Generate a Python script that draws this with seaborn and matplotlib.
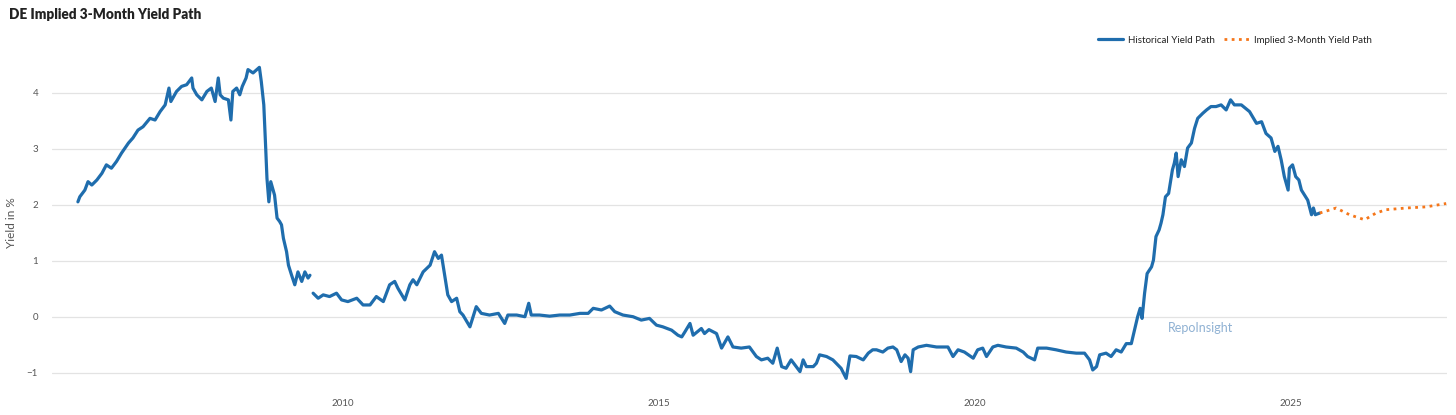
import numpy as np
import pandas as pd
import matplotlib
matplotlib.use("Agg")
import matplotlib.pyplot as plt
from matplotlib.lines import Line2D
import seaborn as sns

# ---------------------------------------------------------------------------
# Data (decimal years, yield in %)
# ---------------------------------------------------------------------------

hist_years = [
    2005.81, 2005.84, 2005.92, 2005.97, 2006.03, 2006.11, 2006.19, 2006.26, 2006.34, 2006.42,
    2006.50, 2006.61, 2006.68, 2006.76, 2006.84, 2006.95, 2007.03, 2007.11, 2007.19, 2007.25,
    2007.28, 2007.37, 2007.45, 2007.53, 2007.61, 2007.63, 2007.69, 2007.77, 2007.85, 2007.92,
    2007.98, 2008.03, 2008.06, 2008.11, 2008.19, 2008.23, 2008.26, 2008.32, 2008.37, 2008.41,
    2008.47, 2008.50, 2008.58, 2008.68, 2008.71, 2008.75, 2008.78, 2008.80, 2008.83, 2008.86,
    2008.92, 2008.96, 2009.00, 2009.03, 2009.06, 2009.11, 2009.14, 2009.19, 2009.24, 2009.29,
    2009.35, 2009.40, 2009.45, 2009.48, 2009.50,
    2009.53, 2009.61, 2009.69, 2009.79, 2009.90, 2009.98, 2010.08, 2010.22, 2010.32, 2010.43,
    2010.53, 2010.64, 2010.74, 2010.82, 2010.87, 2010.98, 2011.06, 2011.11, 2011.17, 2011.27,
    2011.38, 2011.45, 2011.51, 2011.56, 2011.61, 2011.66, 2011.72, 2011.80, 2011.85, 2011.90,
    2012.01, 2012.06, 2012.11, 2012.19, 2012.32, 2012.46, 2012.56, 2012.61, 2012.75, 2012.88,
    2012.94, 2012.98, 2013.11, 2013.27, 2013.43, 2013.59, 2013.75, 2013.88, 2013.96, 2014.09,
    2014.22, 2014.30, 2014.43, 2014.59, 2014.72, 2014.85, 2014.96, 2015.06, 2015.20, 2015.30,
    2015.36, 2015.41, 2015.49, 2015.54, 2015.67, 2015.72, 2015.79, 2015.91, 2015.99, 2016.09,
    2016.17, 2016.30, 2016.43, 2016.54, 2016.62, 2016.72, 2016.80, 2016.87, 2016.94, 2017.01,
    2017.09, 2017.17, 2017.23, 2017.28, 2017.33, 2017.44, 2017.49, 2017.54, 2017.65, 2017.75,
    2017.88, 2017.96, 2018.02, 2018.12, 2018.23, 2018.31, 2018.38, 2018.44, 2018.54, 2018.62,
    2018.70, 2018.76, 2018.83, 2018.89, 2018.94, 2018.98, 2019.02, 2019.10, 2019.23, 2019.39,
    2019.57, 2019.65, 2019.73, 2019.83, 2019.97, 2020.04, 2020.12, 2020.18, 2020.28, 2020.36,
    2020.49, 2020.65, 2020.76, 2020.83, 2020.94, 2020.99, 2021.13, 2021.28, 2021.44, 2021.60,
    2021.73, 2021.81, 2021.86, 2021.92, 2021.97, 2022.07, 2022.15, 2022.23, 2022.31, 2022.39,
    2022.47, 2022.52, 2022.57, 2022.61, 2022.64, 2022.68, 2022.72, 2022.79, 2022.82, 2022.86,
    2022.91, 2022.94, 2022.97, 2023.01, 2023.06, 2023.12, 2023.15, 2023.18, 2023.21, 2023.26,
    2023.31, 2023.36, 2023.42, 2023.47, 2023.52, 2023.60, 2023.66, 2023.73, 2023.81, 2023.89,
    2023.97, 2024.04, 2024.10, 2024.21, 2024.34, 2024.45, 2024.53, 2024.60, 2024.68, 2024.74,
    2024.79, 2024.84, 2024.89, 2024.95, 2024.97, 2025.02, 2025.07, 2025.12, 2025.16, 2025.21,
    2025.26, 2025.32, 2025.35, 2025.38, 2025.45,
]

hist_yield = [
    2.05, 2.14, 2.26, 2.41, 2.35, 2.44, 2.56, 2.71, 2.65, 2.77,
    2.92, 3.10, 3.19, 3.33, 3.39, 3.54, 3.51, 3.66, 3.78, 4.08,
    3.84, 4.02, 4.11, 4.14, 4.26, 4.08, 3.96, 3.87, 4.02, 4.08,
    3.84, 4.26, 3.96, 3.90, 3.87, 3.51, 4.02, 4.08, 3.96, 4.11,
    4.26, 4.41, 4.35, 4.45, 4.20, 3.78, 3.01, 2.47, 2.05, 2.41,
    2.17, 1.76, 1.70, 1.64, 1.40, 1.16, 0.92, 0.74, 0.57, 0.80,
    0.63, 0.80, 0.69, 0.74, np.nan,
    0.42, 0.33, 0.39, 0.36, 0.42, 0.30, 0.27, 0.33, 0.21, 0.21,
    0.36, 0.27, 0.57, 0.63, 0.51, 0.30, 0.57, 0.66, 0.57, 0.80,
    0.92, 1.16, 1.04, 1.10, 0.74, 0.39, 0.27, 0.33, 0.09, 0.03,
    -0.18, 0.00, 0.18, 0.06, 0.03, 0.06, -0.12, 0.03, 0.03, 0.00,
    0.24, 0.03, 0.03, 0.01, 0.03, 0.03, 0.06, 0.06, 0.15, 0.12,
    0.19, 0.09, 0.03, 0.00, -0.06, -0.03, -0.15, -0.18, -0.24, -0.33,
    -0.36, -0.27, -0.12, -0.33, -0.21, -0.30, -0.23, -0.30, -0.56, -0.36,
    -0.54, -0.56, -0.54, -0.71, -0.77, -0.74, -0.83, -0.56, -0.89, -0.92,
    -0.77, -0.89, -0.98, -0.77, -0.89, -0.89, -0.83, -0.68, -0.71, -0.77,
    -0.92, -1.10, -0.70, -0.71, -0.77, -0.65, -0.59, -0.59, -0.63, -0.56,
    -0.54, -0.59, -0.80, -0.68, -0.74, -0.98, -0.59, -0.54, -0.51, -0.54,
    -0.54, -0.71, -0.59, -0.63, -0.74, -0.59, -0.56, -0.71, -0.54, -0.51,
    -0.54, -0.56, -0.63, -0.71, -0.77, -0.56, -0.56, -0.59, -0.63, -0.65,
    -0.65, -0.77, -0.95, -0.89, -0.68, -0.65, -0.71, -0.59, -0.63, -0.48,
    -0.48, -0.24, 0.00, 0.15, -0.03, 0.42, 0.77, 0.89, 1.01, 1.43,
    1.55, 1.67, 1.82, 2.14, 2.20, 2.62, 2.74, 2.92, 2.50, 2.80,
    2.68, 3.01, 3.10, 3.36, 3.54, 3.63, 3.69, 3.75, 3.75, 3.78,
    3.69, 3.87, 3.78, 3.78, 3.66, 3.45, 3.48, 3.27, 3.19, 2.95,
    3.04, 2.80, 2.50, 2.26, 2.65, 2.71, 2.50, 2.44, 2.26, 2.17,
    2.08, 1.82, 1.94, 1.82, 1.85,
]

implied_years = [2025.45, 2025.71, 2025.92, 2026.16, 2026.34, 2026.50, 2026.82, 2027.13, 2027.45]
implied_yield = [1.85, 1.94, 1.82, 1.73, 1.85, 1.91, 1.94, 1.96, 2.02]

year_ticks = [2010, 2015, 2020, 2025]
yield_ticks = [-1, 0, 1, 2, 3, 4]

BLUE = "#1f6dad"
ORANGE = "#f5761a"
GRID = "#e3e3e3"
TEXT = "#555555"
DOTS = (0, (1, 1.6))

# ---------------------------------------------------------------------------
# Plot
# ---------------------------------------------------------------------------

sns.set_theme(style="white")
plt.rcParams["font.family"] = ["Lato", "DejaVu Sans"]

hist = pd.DataFrame({"year": hist_years, "yield": hist_yield})
hist["segment"] = hist["yield"].isna().cumsum()
hist = hist.dropna()
implied = pd.DataFrame({"year": implied_years, "yield": implied_yield})

fig = plt.figure(figsize=(14.56, 4.15), dpi=100)
ax = fig.add_axes([0.0357, 0.068, 0.958, 0.790])

sns.lineplot(data=hist, x="year", y="yield", units="segment", estimator=None,
             color=BLUE, linewidth=2.3, ax=ax, legend=False)
sns.lineplot(data=implied, x="year", y="yield", estimator=None,
             color=ORANGE, linewidth=2.0, linestyle=DOTS, ax=ax, legend=False)

ax.set_xlim(2005.40, 2027.46)
ax.set_ylim(-1.25, 4.6)
ax.set_xticks(year_ticks)
ax.set_yticks(yield_ticks)
ax.set_yticklabels([f"{t}" if t >= 0 else f"\u2212{abs(t)}" for t in yield_ticks])
ax.grid(axis="y", color=GRID, linewidth=0.9)
ax.grid(axis="x", visible=False)
sns.despine(ax=ax, left=True, bottom=True)
ax.tick_params(axis="both", length=0, labelsize=7, colors=TEXT)
ax.tick_params(axis="x", pad=9)
ax.tick_params(axis="y", pad=10)
ax.set_xlabel("")
ax.set_ylabel("Yield in %", fontsize=8.5, color=TEXT, labelpad=7)

fig.text(0.006, 0.965, "DE Implied 3-Month Yield Path", fontsize=9.8,
         fontweight="heavy", color="#222222", va="center", ha="left")

ax.text(2023.05, -0.2, "RepoInsight", fontsize=9, color="#8fb1d3", va="center", ha="left")

handles = [
    Line2D([], [], color=BLUE, linewidth=2.3),
    Line2D([], [], color=ORANGE, linewidth=2.0, linestyle=DOTS),
]
fig.legend(handles, ["Historical Yield Path", "Implied 3-Month Yield Path"],
           loc="center right", bbox_to_anchor=(0.948, 0.903), ncol=2, frameon=False,
           fontsize=7, handlelength=2.6, handletextpad=0.5, columnspacing=0.9,
           labelcolor="#222222")

fig.savefig("out.png", dpi=100)
plt.close(fig)
